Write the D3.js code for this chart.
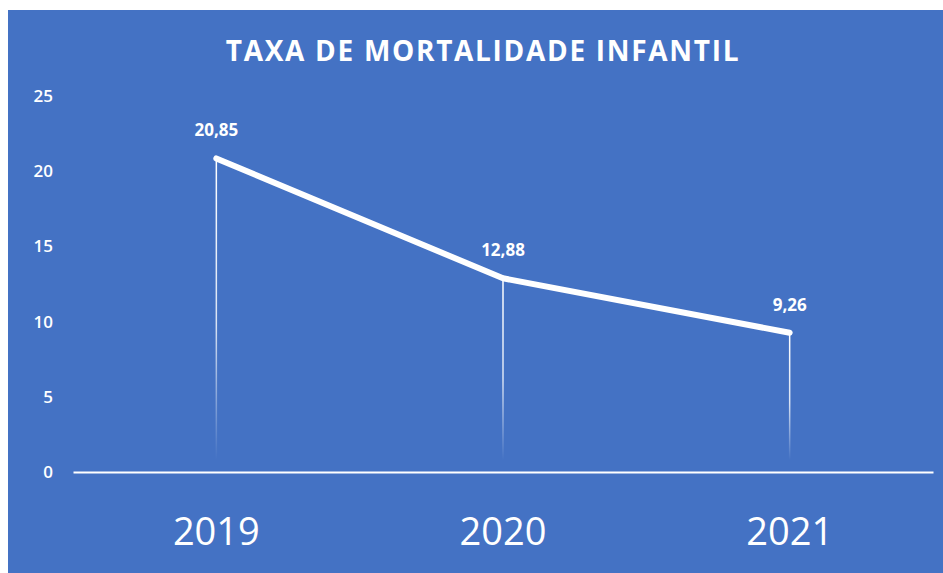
<!DOCTYPE html>
<html>
<head>
<meta charset="utf-8">
<script src="https://cdn.jsdelivr.net/npm/d3@7"></script>
<style>
  html, body { margin: 0; padding: 0; background: #fff; }
  text { font-family: "Open Sans", "Noto Sans", sans-serif; fill: #fff; }
</style>
</head>
<body>
<div id="chart"></div>
<script>
const years = ['2019', '2020', '2021'];
const rates = [20.85, 12.88, 9.26];
const yTicks = [0, 5, 10, 15, 20, 25];
const chartTitle = 'TAXA DE MORTALIDADE INFANTIL';

function buildViz() {
    const W = 943, H = 573;
    const margin = { top: 96, right: 10, bottom: 101, left: 73 };
    const width = W - margin.left - margin.right;
    const height = H - margin.top - margin.bottom;

    const svg = d3.select('#chart').append('svg')
        .attr('width', W)
        .attr('height', H);

    // background panel
    svg.append('rect')
        .attr('x', 8).attr('y', 10)
        .attr('width', W - 8).attr('height', H - 10)
        .attr('fill', '#4472C4');

    // gradient for the drop lines
    const grad = svg.append('defs').append('linearGradient')
        .attr('id', 'drop')
        .attr('x1', 0).attr('y1', 0).attr('x2', 0).attr('y2', 1);
    grad.append('stop').attr('offset', '0%').attr('stop-color', '#fff').attr('stop-opacity', 1);
    grad.append('stop').attr('offset', '55%').attr('stop-color', '#fff').attr('stop-opacity', 0.8);
    grad.append('stop').attr('offset', '100%').attr('stop-color', '#fff').attr('stop-opacity', 0);

    svg.append('text')
        .attr('x', 483)
        .attr('y', 61)
        .attr('text-anchor', 'middle')
        .style('font-size', '28px')
        .style('font-weight', 700)
        .style('letter-spacing', '1.7px')
        .text(chartTitle);

    const g = svg.append('g')
        .attr('transform', `translate(${margin.left},${margin.top})`);

    const x = d3.scaleBand()
        .domain(years)
        .range([0, width]);

    const y = d3.scaleLinear()
        .domain([0, 25])
        .range([height, 0]);

    // y axis labels
    const yAxis = g.append('g')
        .attr('transform', 'translate(-20,0)')
        .call(d3.axisLeft(y).tickValues(yTicks).tickSize(0).tickPadding(0));
    yAxis.select('.domain').remove();
    yAxis.selectAll('text')
        .attr('fill', '#fff')
        .style('font-family', '"Open Sans", sans-serif')
        .style('font-size', '17px')
        .style('font-weight', 600);

    // x axis
    const xAxis = g.append('g')
        .attr('transform', `translate(0,${height})`)
        .call(d3.axisBottom(x).tickSize(0).tickPadding(46));
    xAxis.select('.domain')
        .attr('stroke', '#fff')
        .attr('stroke-width', 2);
    xAxis.selectAll('text')
        .attr('fill', '#fff')
        .style('font-family', '"Open Sans", sans-serif')
        .style('font-size', '38px')
        .style('font-weight', 400);

    const cx = d => x(d) + x.bandwidth() / 2;

    // drop lines
    g.selectAll('.drop')
        .data(years)
        .enter().append('rect')
        .attr('class', 'drop')
        .attr('x', d => cx(d) - 0.75)
        .attr('y', (d, i) => y(rates[i]))
        .attr('width', 1.5)
        .attr('height', (d, i) => y(0) - 12 - y(rates[i]))
        .attr('fill', 'url(#drop)');

    // main line
    const line = d3.line()
        .x((d, i) => cx(years[i]))
        .y(d => y(d));

    g.append('path')
        .datum(rates)
        .attr('d', line)
        .attr('fill', 'none')
        .attr('stroke', '#fff')
        .attr('stroke-width', 6)
        .attr('stroke-linecap', 'round')
        .attr('stroke-linejoin', 'round');

    // value labels
    g.selectAll('.val')
        .data(rates)
        .enter().append('text')
        .attr('class', 'val')
        .attr('x', (d, i) => cx(years[i]))
        .attr('y', d => y(d) - 22)
        .attr('text-anchor', 'middle')
        .style('font-size', '17px')
        .style('font-weight', 700)
        .text(d => d.toFixed(2).replace('.', ','));
}

buildViz();
</script>
</body>
</html>
